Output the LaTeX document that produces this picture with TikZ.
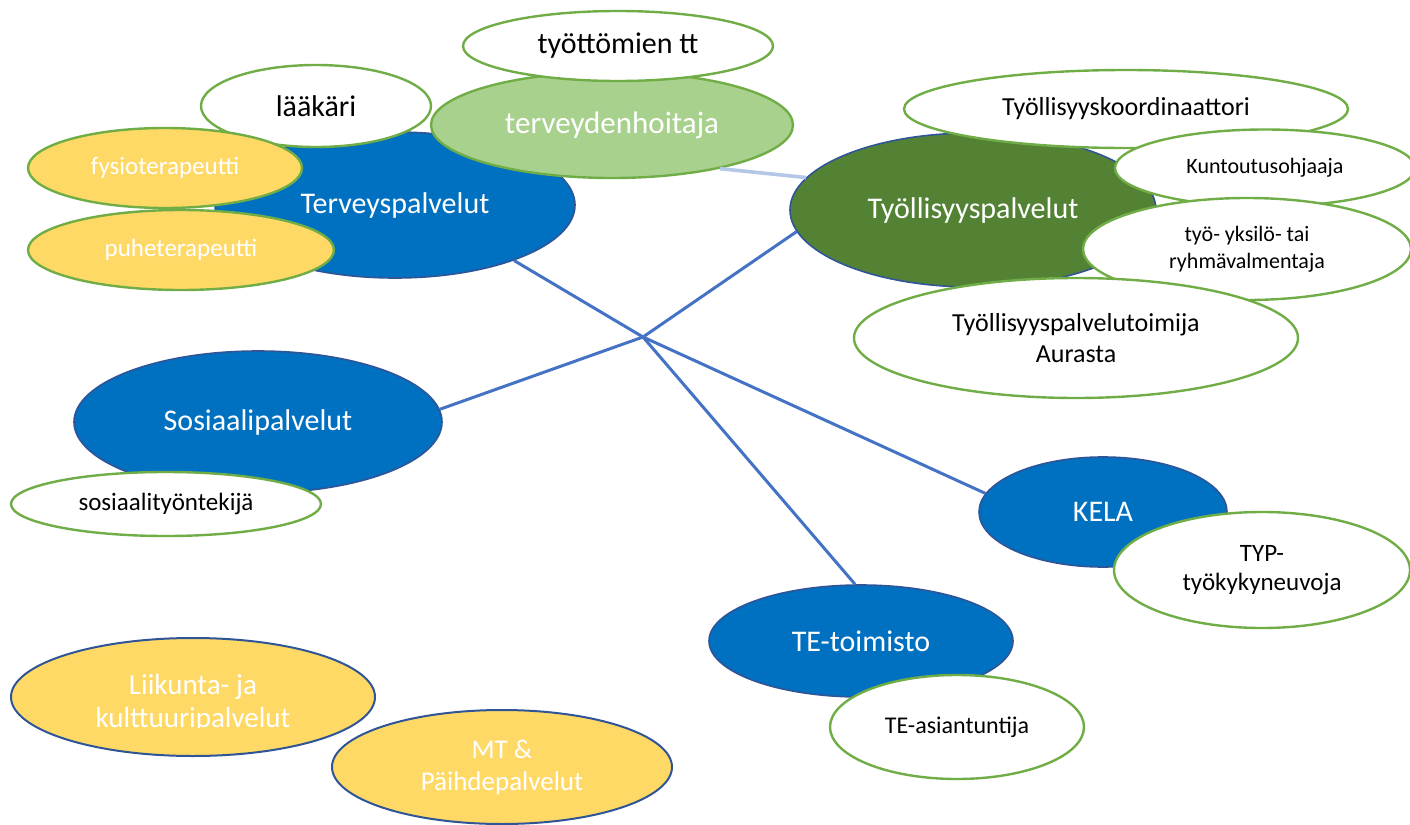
\documentclass[tikz,border=0pt]{standalone}
\usepackage{fontspec}
\setmainfont{Carlito}
\usetikzlibrary{shapes.geometric}
\definecolor{mainblue}{HTML}{0070C0}
\definecolor{edgeblue}{HTML}{2F5597}
\definecolor{darkgreen}{HTML}{548235}
\definecolor{lightgreen}{HTML}{A9D18E}
\definecolor{greenedge}{HTML}{70AD47}
\definecolor{softyellow}{HTML}{FFD966}
\definecolor{lineblue}{HTML}{4472C4}
\definecolor{paleline}{HTML}{B4C7E7}
\newcommand{\fs}[2]{\fontsize{#1}{#2}\selectfont}
\begin{document}
\begin{tikzpicture}[x=0.5pt,y=-0.5pt,
  ell/.style={ellipse,inner sep=0pt,align=center},
  whiteell/.style={ell,draw=greenedge,line width=1.2pt,fill=white,text=black},
  blueell/.style={ell,draw=edgeblue,line width=0.8pt,fill=mainblue,text=white},
  greenell/.style={ell,draw=edgeblue,line width=0.8pt,fill=darkgreen,text=white},
  paleell/.style={ell,draw=greenedge,line width=1.2pt,fill=lightgreen,text=white},
  yellowgreen/.style={ell,draw=greenedge,line width=1.2pt,fill=softyellow,text=white},
  yellowblue/.style={ell,draw=edgeblue,line width=1.0pt,fill=softyellow,text=white},
  conn/.style={draw=lineblue,line width=1.5pt},
  paleconn/.style={draw=paleline,line width=1.8pt}]
\useasboundingbox (0,0) rectangle (1410,825);
% health group
\node[blueell,minimum width=180pt,minimum height=73pt,font=\fs{15}{18}] (terv) at (395,205) {Terveyspalvelut};
\node[whiteell,minimum width=115pt,minimum height=41pt,font=\fs{15}{18}] (laak) at (316,106) {lääkäri};
\node[yellowgreen,minimum width=137pt,minimum height=40pt,font=\fs{12.5}{15}] (fysio) at (165,168) {fysioterapeutti};
\node[yellowgreen,minimum width=153pt,minimum height=40pt,font=\fs{12.5}{15}] (puhe) at (181,250) {puheterapeutti};
\node[paleell,minimum width=181pt,minimum height=53pt,font=\fs{15.5}{18}] (tdh) at (612,125) {terveydenhoitaja};
\node[whiteell,minimum width=155pt,minimum height=35pt,font=\fs{15}{18}] (tyot) at (618,46) {työttömien tt};
% employment group
\node[greenell,minimum width=183pt,minimum height=77pt,font=\fs{15}{18}] (tyo) at (973,210) {Työllisyyspalvelut};
\node[whiteell,minimum width=222pt,minimum height=39pt,font=\fs{13}{15}] (koord) at (1126,109) {Työllisyyskoordinaattori};
\node[whiteell,minimum width=150pt,minimum height=38.5pt,font=\fs{11}{13}] (kunt) at (1265,168) {Kuntoutusohjaaja};
\node[whiteell,minimum width=164pt,minimum height=51pt,font=\fs{11}{13.5}] (valm) at (1247,249) {työ- yksilö- tai\\ryhmävalmentaja};
\node[whiteell,minimum width=222pt,minimum height=60pt,font=\fs{13}{15.5}] (aur) at (1076,338) {Työllisyyspalvelutoimija\\Aurasta};
% social
\node[blueell,minimum width=184pt,minimum height=71pt,font=\fs{15}{18}] (sos) at (258,422) {Sosiaalipalvelut};
\node[whiteell,minimum width=155pt,minimum height=32pt,font=\fs{12.5}{15}] (sost) at (166,504) {sosiaalityöntekijä};
% KELA
\node[blueell,minimum width=124pt,minimum height=55pt,font=\fs{15}{18}] (kela) at (1103,512) {KELA};
\node[whiteell,minimum width=148pt,minimum height=58pt,font=\fs{12.5}{14.5}] (typ) at (1262,570) {TYP-\\työkykyneuvoja};
% TE
\node[blueell,minimum width=152pt,minimum height=56pt,font=\fs{15}{18}] (te) at (861,641) {TE-toimisto};
\node[whiteell,minimum width=127pt,minimum height=52pt,font=\fs{12}{14}] (teas) at (957,727) {TE-asiantuntija};
% bottom left
\node[yellowblue,minimum width=182pt,minimum height=59pt] (liik) at (193,697) {};
\begin{scope}
  \clip (0,0) rectangle (1410,727);
  \node[align=center,text=white,font=\fs{14.5}{16.5},inner sep=0pt] (liiktxt) at (193,703) {Liikunta- ja\\kulttuuripalvelut};
\end{scope}
\node[yellowblue,minimum width=170pt,minimum height=57pt,font=\fs{13.5}{16}] (mt) at (502,767) {MT \&\\Päihdepalvelut};
% connectors
\coordinate (hub) at (643,337);
\draw[paleconn] (tdh.-22) -- (tyo.169);
\draw[conn] (terv.-25) -- (hub) -- (kela.171);
\draw[conn] (sos.4) -- (hub) -- (tyo.-173);
\draw[conn] (hub) -- (te.96);
\end{tikzpicture}
\end{document}
